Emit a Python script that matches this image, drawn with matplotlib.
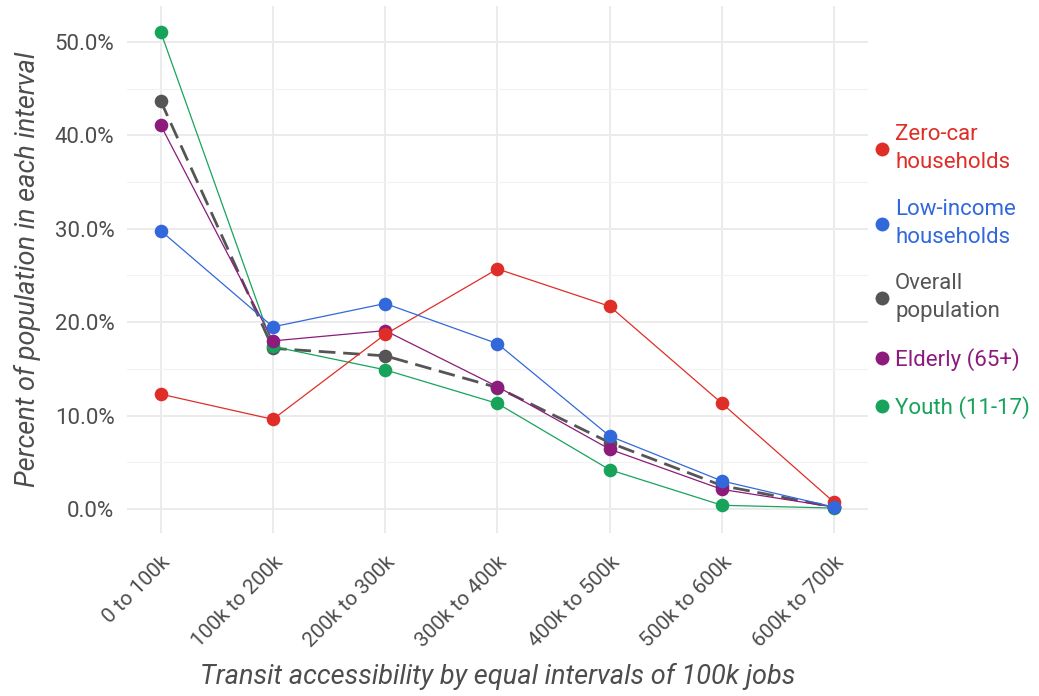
import matplotlib
matplotlib.use("Agg")
import matplotlib.pyplot as plt
from matplotlib.lines import Line2D
from matplotlib.ticker import MultipleLocator, FuncFormatter

categories = ["0 to 100k", "100k to 200k", "200k to 300k", "300k to 400k",
              "400k to 500k", "500k to 600k", "600k to 700k"]
zero_car = [12.3, 9.6, 18.7, 25.7, 21.7, 11.3, 0.7]
low_income = [29.8, 19.5, 22.0, 17.7, 7.8, 3.0, 0.2]
overall = [43.7, 17.2, 16.4, 13.0, 7.1, 2.5, 0.2]
elderly = [41.1, 18.0, 19.1, 13.1, 6.4, 2.1, 0.2]
youth = [51.1, 17.4, 14.9, 11.3, 4.2, 0.4, 0.1]

labels = ["Zero-car\nhouseholds", "Low-income\nhouseholds", "Overall\npopulation",
          "Elderly (65+)", "Youth (11-17)"]
colors = ["#DF2E28", "#3368DB", "#555555", "#8C1B7B", "#17A45A"]

plt.rcParams['font.family'] = ['Roboto', 'DejaVu Sans']

fig = plt.figure(figsize=(10.39, 6.96), dpi=100)
ax = fig.add_axes([0.1222, 0.2343, 0.8354 - 0.1222, 0.9907 - 0.2343])

x = list(range(len(categories)))
series = [zero_car, low_income, overall, elderly, youth]
styles = ["-", "-", "--", "-", "-"]
widths = [0.9, 0.9, 2.0, 0.9, 0.9]
zorders = [6, 7, 3, 5, 4]
for vals, c, ls, lw, z in zip(series, colors, styles, widths, zorders):
    ax.plot(x, vals, color=c, linestyle=ls, linewidth=lw, zorder=z,
            dashes=(6, 2.8) if ls == "--" else (None, None))
    ax.plot(x, vals, linestyle="none", marker="o", markersize=9.8,
            color=c, markeredgewidth=0, zorder=z + 0.5)

ax.set_xlim(-0.3, 6.3)
ax.set_ylim(-2.56, 53.8)
ax.set_xticks(x)
ax.set_xticklabels(categories, rotation=45, ha="right", va="top",
                   rotation_mode="anchor", fontsize=15, color="#4D4D4D")
ax.yaxis.set_major_locator(MultipleLocator(10))
ax.yaxis.set_minor_locator(MultipleLocator(5))
ax.yaxis.set_major_formatter(FuncFormatter(lambda v, p: f"{v:.1f}%"))
ax.tick_params(axis="y", labelsize=16, labelcolor="#4D4D4D", length=0, pad=9,
               which="both")
ax.tick_params(axis="x", length=0, pad=14)

ax.grid(True, which="major", color="#EBEBEB", linewidth=1.4, zorder=0)
ax.grid(True, which="minor", axis="y", color="#F2F2F2", linewidth=0.8, zorder=0)
ax.set_axisbelow(True)
for s in ax.spines.values():
    s.set_visible(False)

ax.set_ylabel("Percent of population in each interval", fontsize=19.5,
              style="italic", color="#4D4D4D")
ax.yaxis.set_label_coords(-0.134, 0.5)
ax.set_xlabel("Transit accessibility by equal intervals of 100k jobs",
              fontsize=19.5, style="italic", color="#4D4D4D")
ax.xaxis.set_label_coords(0.5, -0.272)
ax.xaxis.label.set_va("center")
ax.yaxis.label.set_va("center")

handles = [Line2D([0], [0], marker="o", linestyle="none", markersize=10,
                  color=c, markeredgewidth=0) for c in colors]
leg = fig.legend(handles, labels, loc="upper left",
                 bbox_to_anchor=(0.8316, 0.834), frameon=False,
                 fontsize=16, labelspacing=1.15, handletextpad=0.2,
                 handlelength=0.8, borderaxespad=0)
for t, c in zip(leg.get_texts(), colors):
    t.set_color(c)
    t.set_linespacing(1.43)

fig.savefig("out.png", dpi=100)
